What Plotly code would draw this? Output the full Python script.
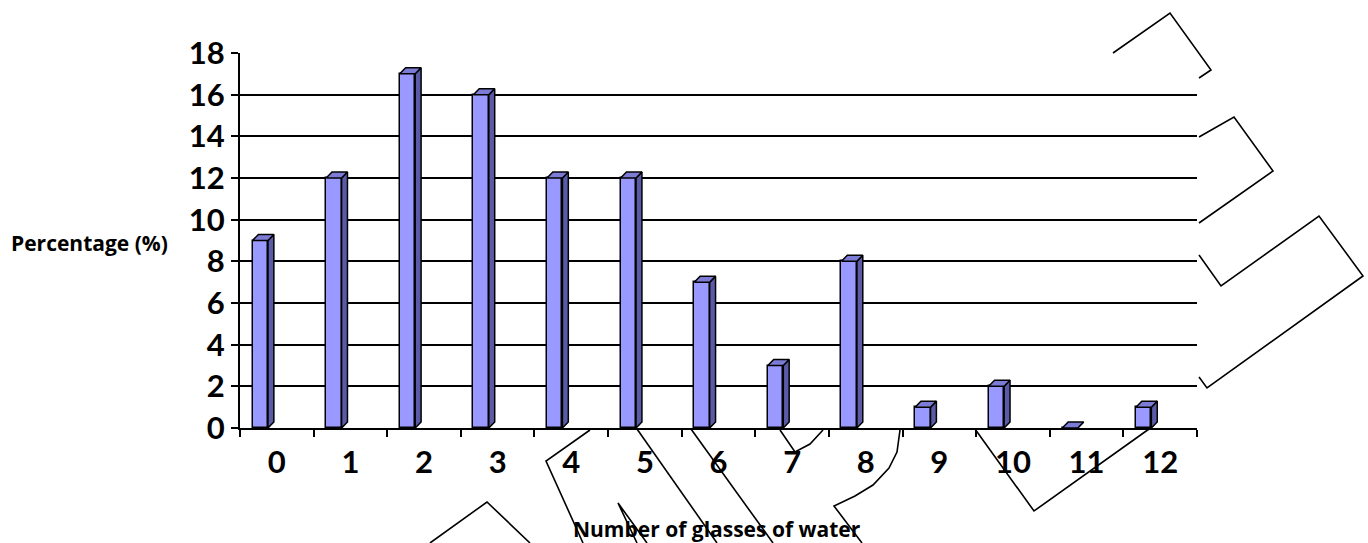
import plotly.graph_objects as go

# ---- data ----
categories = [0, 1, 2, 3, 4, 5, 6, 7, 8, 9, 10, 11, 12]
percentages = [9, 12, 17, 16, 12, 12, 7, 3, 8, 1, 2, 0, 1]
tick_labels = [str(c) for c in categories]
y_ticks = [0, 2, 4, 6, 8, 10, 12, 14, 16, 18]

# ---- styling / geometry ----
W, H = 1368, 543
ML, MR, MT, MB = 240, 171, 53, 115
FRONT = "#9999FF"
SIDE = "#5A5AA6"
TOP = "#7C7CD6"
BAR_OFF = -0.33
BAR_W = 0.21
DX = 0.08    # depth in x units
DY = 0.29    # depth in y units
FONT = "Lato"
TFONT = "Open Sans"

fig = go.Figure()

# front faces
fig.add_trace(go.Bar(
    x=categories, y=percentages, width=BAR_W, offset=BAR_OFF,
    marker=dict(color=FRONT, line=dict(color="black", width=1.5)),
    hoverinfo="x+y", showlegend=False))

# side and top faces
sx, sy, tx, ty = [], [], [], []
for c, v in zip(categories, percentages):
    xl = c + BAR_OFF
    xr = xl + BAR_W
    sx += [xr, xr + DX, xr + DX, xr, xr, None]
    sy += [0, DY, v + DY, v, 0, None]
    tx += [xl, xl + DX, xr + DX, xr, xl, None]
    ty += [v, v + DY, v + DY, v, v, None]
fig.add_trace(go.Scatter(x=sx, y=sy, mode="lines", fill="toself", fillcolor=SIDE,
                         line=dict(color="black", width=1.5), hoverinfo="skip", showlegend=False))
fig.add_trace(go.Scatter(x=tx, y=ty, mode="lines", fill="toself", fillcolor=TOP,
                         line=dict(color="black", width=1.5), hoverinfo="skip", showlegend=False))

# ---- decorative callout outlines (pixel -> paper) ----
def px(p):
    x, y = p
    return (x - ML) / (W - ML - MR), (H - MB - y) / (H - MT - MB)

deco = [
    [(1113, 53), (1170, 13), (1211, 70), (1199, 78)],
    [(1199, 137), (1234, 117), (1273, 171), (1199, 223)],
    [(1199, 255), (1221, 286), (1319, 216), (1363, 276), (1207, 388), (1199, 377)],
    [(590, 430), (546, 461), (583, 543)],
    [(430, 543), (487, 502), (530, 543)],
    [(637, 543), (618, 503), (647, 543)],
    [(637, 429), (717, 543)],
    [(691, 429), (773, 543)],
    [(780, 430), (795, 452), (810, 444), (823, 430)],
    [(900, 430), (897, 452), (889, 468), (873, 485), (855, 496), (834, 506), (862, 543)],
    [(975, 429), (1034, 511), (1149, 429)],
]
shapes = []
for poly in deco:
    pts = [px(p) for p in poly]
    path = "M" + " L".join(f"{a:.5f},{b:.5f}" for a, b in pts)
    shapes.append(dict(type="path", xref="paper", yref="paper", path=path,
                       line=dict(color="black", width=1.6), layer="above"))

fig.update_layout(
    width=W, height=H,
    margin=dict(l=ML, r=MR, t=MT, b=MB),
    paper_bgcolor="white", plot_bgcolor="white",
    bargap=0, shapes=shapes,
    font=dict(family=FONT, color="black"),
    xaxis=dict(
        range=[-0.5, 12.5], tickmode="array", tickvals=categories, ticktext=tick_labels,
        ticks="", showgrid=False, zeroline=False, showline=True, linecolor="black", linewidth=2,
        tickfont=dict(family=FONT, size=31, color="black", weight="bold"),
        ticklabelstandoff=6,
        minor=dict(tickvals=[c - 0.5 for c in categories] + [categories[-1] + 0.5],
                   ticks="outside", ticklen=7, tickcolor="black", tickwidth=1.6, showgrid=False),
    ),
    yaxis=dict(
        range=[0, 18], tickmode="array", tickvals=y_ticks,
        ticks="outside", ticklen=7, tickcolor="black", tickwidth=1.6,
        showgrid=True, gridcolor="black", gridwidth=2, zeroline=False,
        showline=True, linecolor="black", linewidth=2,
        tickfont=dict(family=FONT, size=31, color="black", weight="bold"),
    ),
    annotations=[
        dict(text="Percentage (%)", xref="paper", yref="paper",
             x=(89 - ML) / (W - ML - MR), y=(H - MB - 243) / (H - MT - MB),
             showarrow=False, xanchor="center", yanchor="middle",
             font=dict(family=TFONT, size=21, color="black", weight="bold")),
        dict(text="Number of glasses of water", xref="paper", yref="paper",
             x=(717 - ML) / (W - ML - MR), y=(H - MB - 529) / (H - MT - MB),
             showarrow=False, xanchor="center", yanchor="middle",
             font=dict(family=TFONT, size=21, color="black", weight="bold")),
    ],
)

fig.write_html("out.html", config={"displayModeBar": False},
               post_script="document.body.style.margin='0px';document.body.style.overflow='hidden';")
